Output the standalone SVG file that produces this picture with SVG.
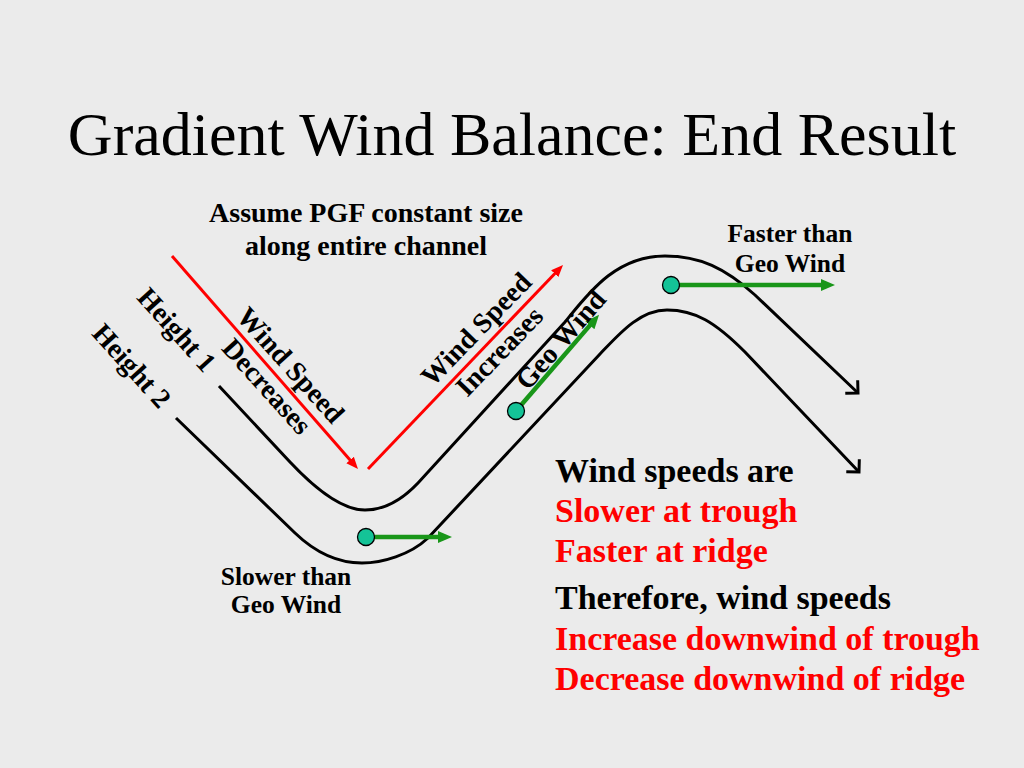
<svg xmlns="http://www.w3.org/2000/svg" width="1024" height="768" viewBox="0 0 1024 768">
<style>
.title{font-family:"Liberation Serif","Times New Roman",serif;font-size:62px;fill:#000}
.lbl{font-family:"Liberation Serif","Times New Roman",serif;font-weight:bold;font-size:28px;fill:#000}
.sm{font-family:"Liberation Serif","Times New Roman",serif;font-weight:bold;font-size:25.5px;fill:#000}
.big{font-family:"Liberation Serif","Times New Roman",serif;font-weight:bold;font-size:34px}
.blk{fill:#000}
.red{fill:#FF0000}
.curve{fill:none;stroke:#000;stroke-width:3}
.redln{fill:none;stroke:#FF0000;stroke-width:3}
.grn{fill:none;stroke:#199619;stroke-width:4.5}
.dot{fill:#14C397;stroke:#000;stroke-width:1.3}
</style>
<defs>
<marker id="open" viewBox="-14 -12 18 24" refX="0" refY="0" markerWidth="18" markerHeight="24" markerUnits="userSpaceOnUse" orient="auto">
<path d="M-9,-9 L0,0 L-9,9" fill="none" stroke="#000" stroke-width="3" stroke-linejoin="miter"/>
</marker>
<marker id="redhead" viewBox="0 -6 14 12" refX="2" refY="0" markerWidth="14" markerHeight="12" markerUnits="userSpaceOnUse" orient="auto">
<path d="M0,-5 L12,0 L0,5 z" fill="#FF0000"/>
</marker>
<marker id="grnhead" viewBox="0 -7 16 14" refX="2" refY="0" markerWidth="16" markerHeight="14" markerUnits="userSpaceOnUse" orient="auto">
<path d="M0,-6 L14,0 L0,6 z" fill="#199619"/>
</marker>
</defs>
<rect width="1024" height="768" fill="#EBEBEB"/>

<text class="title" x="512" y="155" text-anchor="middle">Gradient Wind Balance: End Result</text>

<g id="note-pgf">
<text class="lbl" x="366" y="222" text-anchor="middle">Assume PGF constant size</text>
<text class="lbl" x="366" y="255" text-anchor="middle">along entire channel</text>
</g>

<g id="connectors">
<path id="height1" class="curve" marker-end="url(#open)" d="M219,386 L290,462 C320,494 345,510 365,510 C383,510 400,502 418,483 L565,322 C588,294 615,256 665,256 C700,256 725,268 755,295 L858,393"/>
<path id="height2" class="curve" marker-end="url(#open)" d="M176,418 L295,533 C320,557 342,563 362,563 C382,563 410,555 428,538 L600,354 C620,333 640,310 667,310 C695,310 715,322 745,352 L859,472"/>
<line class="redln" x1="172" y1="256" x2="351.4" y2="461.5" marker-end="url(#redhead)"/>
<line class="redln" x1="368" y1="469" x2="556.1" y2="272.2" marker-end="url(#redhead)"/>
<line class="grn" x1="366" y1="537" x2="440" y2="537" marker-end="url(#grnhead)"/>
<line class="grn" x1="516" y1="411" x2="591.2" y2="323.9" marker-end="url(#grnhead)"/>
<line class="grn" x1="671" y1="285" x2="823" y2="285" marker-end="url(#grnhead)"/>
</g>

<g id="parcel-trough"><circle class="dot" cx="366" cy="537" r="8.5"/></g>
<g id="parcel-mid"><circle class="dot" cx="516" cy="411" r="8.5"/></g>
<g id="parcel-ridge"><circle class="dot" cx="671" cy="285" r="8.5"/></g>

<g id="label-height1" transform="translate(176.5,330) rotate(48)">
<text class="lbl" x="0" y="9" text-anchor="middle">Height 1</text>
</g>
<g id="label-height2" transform="translate(131.5,366) rotate(48)">
<text class="lbl" x="0" y="9" text-anchor="middle">Height 2</text>
</g>
<g id="label-decreases" transform="translate(278.5,376) rotate(48)">
<text class="lbl" x="0" y="-7" text-anchor="middle">Wind Speed</text>
<text class="lbl" x="0" y="25" text-anchor="middle">Decreases</text>
</g>
<g id="label-increases" transform="translate(488,340.5) rotate(-46)">
<text class="lbl" x="0" y="-7" text-anchor="middle">Wind Speed</text>
<text class="lbl" x="0" y="25" text-anchor="middle">Increases</text>
</g>
<g id="label-geo" transform="translate(561,340) rotate(-49)">
<text class="lbl" x="0" y="9" text-anchor="middle">Geo Wind</text>
</g>

<g id="label-faster">
<text class="sm" x="790" y="242" text-anchor="middle">Faster than</text>
<text class="sm" x="790" y="272" text-anchor="middle">Geo Wind</text>
</g>
<g id="label-slower">
<text class="sm" x="286" y="585" text-anchor="middle">Slower than</text>
<text class="sm" x="286" y="613" text-anchor="middle">Geo Wind</text>
</g>

<g id="summary">
<text class="big blk" x="555" y="482">Wind speeds are</text>
<text class="big red" x="555" y="522">Slower at trough</text>
<text class="big red" x="555" y="562">Faster at ridge</text>
<text class="big blk" x="555" y="609">Therefore, wind speeds</text>
<text class="big red" x="555" y="650">Increase downwind of trough</text>
<text class="big red" x="555" y="690">Decrease downwind of ridge</text>
</g>
</svg>
